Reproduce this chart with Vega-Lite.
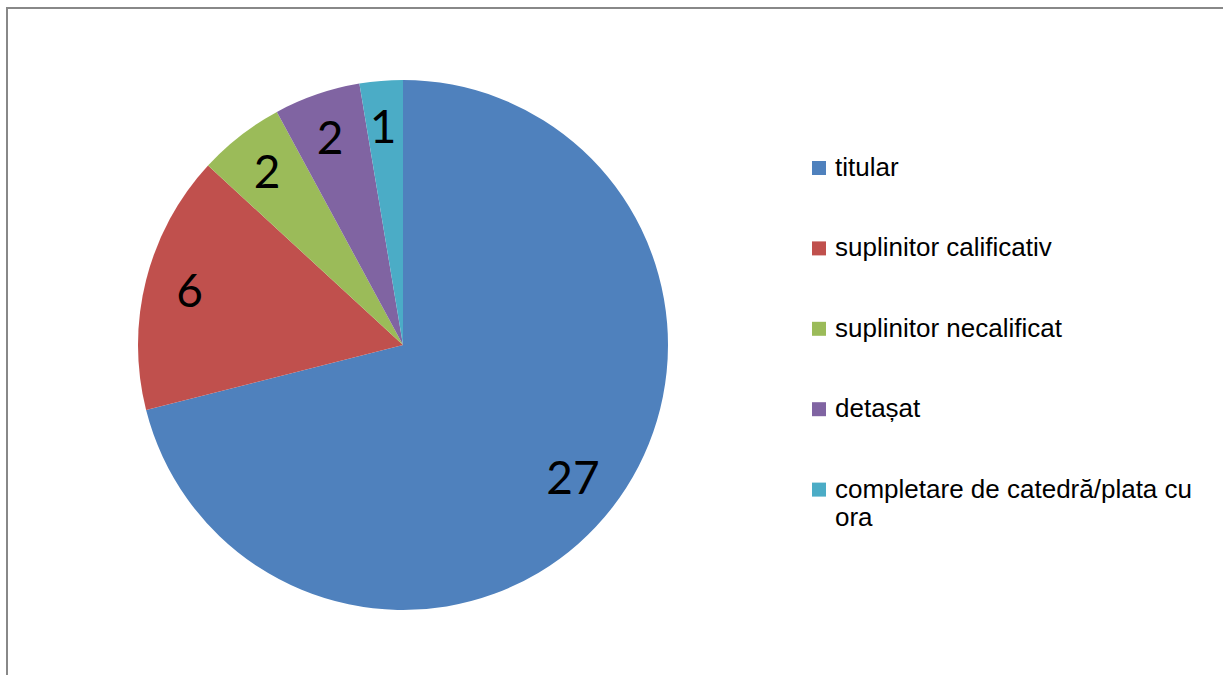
{
  "$schema": "https://vega.github.io/schema/vega-lite/v6.json",
  "autosize": {"type": "none"},
  "padding": {"left": 7, "top": 8, "right": 0, "bottom": 0},
  "width": 1216,
  "height": 667,
  "background": "white",
  "view": {"stroke": "#888888", "strokeWidth": 2, "strokeDash": [1216, 1883, 667, 1]},
  "data": {
    "values": [
      {"category": "titular", "n": 27, "ord": 1},
      {"category": "suplinitor calificativ", "n": 6, "ord": 2},
      {"category": "suplinitor necalificat", "n": 2, "ord": 3},
      {"category": "detașat", "n": 2, "ord": 4},
      {"category": "completare de catedră/plata cu ora", "n": 1, "ord": 5}
    ]
  },
  "encoding": {
    "theta": {"field": "n", "type": "quantitative", "stack": true},
    "order": {"field": "ord", "type": "quantitative"}
  },
  "layer": [
    {
      "mark": {"type": "arc", "outerRadius": 265, "xOffset": -212, "yOffset": 3.5},
      "encoding": {
        "color": {
          "field": "category",
          "type": "nominal",
          "sort": ["titular", "suplinitor calificativ", "suplinitor necalificat", "detașat", "completare de catedră/plata cu ora"],
          "scale": {
            "domain": ["titular", "suplinitor calificativ", "suplinitor necalificat", "detașat", "completare de catedră/plata cu ora"],
            "range": ["#4F81BD", "#C0504D", "#9BBB59", "#8064A2", "#4BACC6"]
          },
          "legend": {
            "title": null,
            "orient": "none",
            "legendX": 799,
            "legendY": 147,
            "padding": 0,
            "symbolType": "square",
            "symbolSize": 196,
            "symbolStrokeWidth": 0,
            "symbolOpacity": 1,
            "labelFont": "Liberation Sans",
            "labelFontSize": 26,
            "labelColor": "#000000",
            "labelOffset": 3,
            "labelLimit": 0,
            "rowPadding": 54.4,
            "labelExpr": "datum.label === 'completare de catedră/plata cu ora' ? ['completare de catedră/plata cu', 'ora'] : datum.label"
          }
        }
      }
    },
    {
      "mark": {"type": "text", "radius": 218, "xOffset": -214, "yOffset": 5, "font": "Lato", "fontSize": 46, "fill": "#000000", "align": "center", "baseline": "middle"},
      "encoding": {
        "text": {"field": "n", "type": "quantitative"}
      }
    }
  ]
}
